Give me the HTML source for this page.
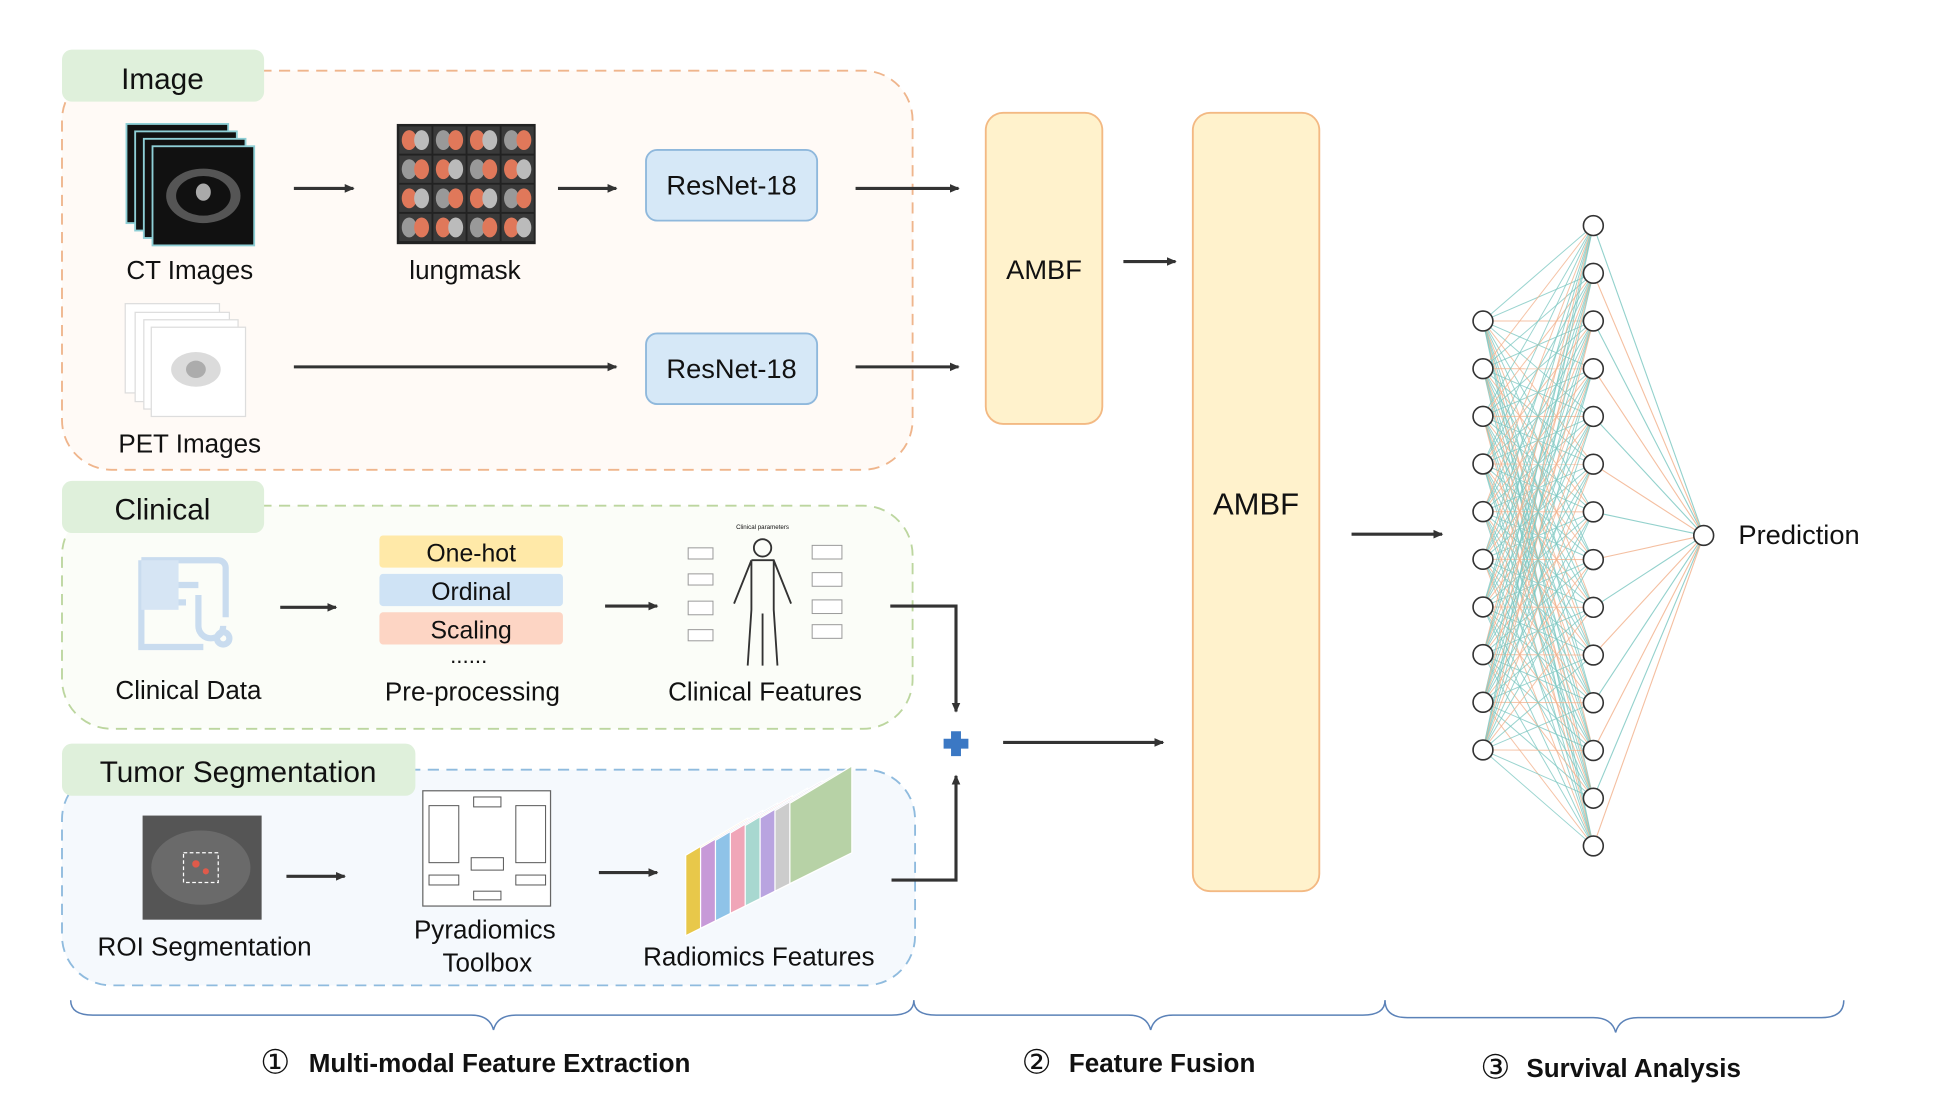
<!DOCTYPE html>
<html><head><meta charset="utf-8"><style>
html,body{margin:0;padding:0;background:#fff;}
svg{display:block;}
text{font-family:"Liberation Sans","DejaVu Sans",sans-serif;fill:#111;}
</style></head><body>
<svg id="s" width="1943" height="1118" viewBox="0 0 1567 902" preserveAspectRatio="none" xmlns="http://www.w3.org/2000/svg">
<defs>
<marker id="ar" markerWidth="8" markerHeight="8" refX="7" refY="4" orient="auto" markerUnits="userSpaceOnUse"><path d="M0,0.5 L8,4 L0,7.5 Z" fill="#333"/></marker>
</defs>
<rect x="50" y="57" width="686" height="322" rx="40" fill="#fffaf6" stroke="#efb58c" stroke-width="1.5" stroke-dasharray="9,6"/>
<rect x="50" y="40" width="163" height="42" rx="8" fill="#dff0db"/>
<text x="131" y="72" font-size="24" text-anchor="middle">Image</text>

<rect x="50" y="408" width="686" height="180" rx="40" fill="#fbfdf8" stroke="#bcd69f" stroke-width="1.5" stroke-dasharray="9,6"/>
<rect x="50" y="388" width="163" height="42" rx="8" fill="#dff0db"/>
<text x="131" y="419" font-size="24" text-anchor="middle">Clinical</text>

<rect x="50" y="621" width="688" height="174" rx="40" fill="#f5f9fd" stroke="#8fbbde" stroke-width="1.5" stroke-dasharray="9,6"/>
<rect x="50" y="600" width="285" height="42" rx="8" fill="#dff0db"/>
<text x="192" y="631" font-size="24" text-anchor="middle">Tumor Segmentation</text>

<g stroke="#8ecfd6" stroke-width="1.5">
<rect x="102" y="100" width="82" height="80" fill="#111"/>
<rect x="109" y="106" width="82" height="80" fill="#111"/>
<rect x="116" y="112" width="82" height="80" fill="#111"/>
<rect x="123" y="118" width="82" height="80" fill="#111"/>
</g>
<ellipse cx="164" cy="158" rx="30" ry="22" fill="#555"/>
<ellipse cx="164" cy="158" rx="22" ry="16" fill="#111"/>
<ellipse cx="164" cy="155" rx="6" ry="7" fill="#aaa"/>
<text x="153" y="225" font-size="21" text-anchor="middle">CT Images</text>

<g id="lm"></g>
<text x="375" y="225" font-size="21" text-anchor="middle">lungmask</text>

<g stroke="#ddd" stroke-width="1">
<rect x="101" y="245" width="76" height="72" fill="#fff"/>
<rect x="109" y="252" width="76" height="72" fill="#fff"/>
<rect x="116" y="258" width="76" height="72" fill="#fff"/>
<rect x="122" y="264" width="76" height="72" fill="#fff"/>
</g>
<ellipse cx="158" cy="298" rx="20" ry="14" fill="#ccc" opacity="0.7"/>
<ellipse cx="158" cy="298" rx="8" ry="7" fill="#999" opacity="0.7"/>
<text x="153" y="365" font-size="21" text-anchor="middle">PET Images</text>

<g stroke="#333" stroke-width="2.5" fill="none" marker-end="url(#ar)">
<line x1="237" y1="152" x2="285" y2="152"/>
<line x1="450" y1="152" x2="497" y2="152"/>
<line x1="690" y1="152" x2="773" y2="152"/>
<line x1="237" y1="296" x2="497" y2="296"/>
<line x1="690" y1="296" x2="773" y2="296"/>
<line x1="906" y1="211" x2="948" y2="211"/>
<line x1="1090" y1="431" x2="1163" y2="431"/>
<line x1="226" y1="490" x2="271" y2="490"/>
<line x1="488" y1="489" x2="530" y2="489"/>
<polyline points="718,489 771,489 771,574"/>
<polyline points="719,710 771,710 771,626"/>
<line x1="809" y1="599" x2="938" y2="599"/>
<line x1="231" y1="707" x2="278" y2="707"/>
<line x1="483" y1="704" x2="530" y2="704"/>
</g>

<rect x="521" y="121" width="138" height="57" rx="9" fill="#d6e8f7" stroke="#8fb8dc" stroke-width="1.5"/>
<text x="590" y="157" font-size="22" text-anchor="middle">ResNet-18</text>
<rect x="521" y="269" width="138" height="57" rx="9" fill="#d6e8f7" stroke="#8fb8dc" stroke-width="1.5"/>
<text x="590" y="305" font-size="22" text-anchor="middle">ResNet-18</text>

<rect x="795" y="91" width="94" height="251" rx="14" fill="#fff2cc" stroke="#f3b983" stroke-width="1.5"/>
<text x="842" y="225" font-size="22" text-anchor="middle">AMBF</text>
<rect x="962" y="91" width="102" height="628" rx="14" fill="#fff2cc" stroke="#f3b983" stroke-width="1.5"/>
<text x="1013" y="415" font-size="25" text-anchor="middle">AMBF</text>

<g fill="none" stroke="#c9dcef" stroke-width="5">
<path d="M114,452 h62 a6,6 0 0 1 6,6 v40 M114,452 v70 h50"/>
<line x1="128" y1="472" x2="160" y2="472"/><line x1="128" y1="486" x2="150" y2="486"/>
<path d="M160,480 v25 a10,10 0 0 0 20,0"/><circle cx="180" cy="515" r="5"/>
</g>
<rect x="114" y="452" width="30" height="40" fill="#d6e5f4"/>
<text x="152" y="564" font-size="21" text-anchor="middle">Clinical Data</text>

<rect x="306" y="432" width="148" height="26" rx="3" fill="#ffe9a8"/>
<text x="380" y="453" font-size="20" text-anchor="middle">One-hot</text>
<rect x="306" y="463" width="148" height="26" rx="3" fill="#cfe3f5"/>
<text x="380" y="484" font-size="20" text-anchor="middle">Ordinal</text>
<rect x="306" y="494" width="148" height="26" rx="3" fill="#fdd5c4"/>
<text x="380" y="515" font-size="20" text-anchor="middle">Scaling</text>
<text x="378" y="535" font-size="18" text-anchor="middle">......</text>
<text x="381" y="565" font-size="21" text-anchor="middle">Pre-processing</text>

<text x="615" y="427" font-size="5" text-anchor="middle">Clinical parameters</text>
<g fill="none" stroke="#333" stroke-width="1.5">
<circle cx="615" cy="442" r="7"/>
<path d="M606,452 h18 l14,35 M606,452 l-14,35 M606,452 v40 l-3,45 M624,452 v40 l3,45 M615,495 v42"/>
</g>
<g fill="#fff" stroke="#999" stroke-width="0.8">
<rect x="555" y="442" width="20" height="9"/><rect x="555" y="463" width="20" height="9"/><rect x="555" y="485" width="20" height="11"/><rect x="555" y="508" width="20" height="9"/>
<rect x="655" y="440" width="24" height="11"/><rect x="655" y="462" width="24" height="11"/><rect x="655" y="484" width="24" height="11"/><rect x="655" y="504" width="24" height="11"/>
</g>
<text x="617" y="565" font-size="21" text-anchor="middle">Clinical Features</text>

<path d="M767,590 h8 v6 h6 v8 h-6 v6 h-8 v-6 h-6 v-8 h6 z" fill="#3b78c4"/>

<rect x="115" y="658" width="96" height="84" fill="#555"/>
<ellipse cx="162" cy="700" rx="40" ry="30" fill="#6a6a6a"/>
<rect x="148" y="688" width="28" height="24" fill="none" stroke="#fff" stroke-dasharray="3,2"/>
<circle cx="158" cy="697" r="3" fill="#e05a4a"/><circle cx="166" cy="703" r="2.5" fill="#e05a4a"/>
<text x="165" y="771" font-size="21" text-anchor="middle">ROI Segmentation</text>

<rect x="341" y="638" width="103" height="93" fill="#fff" stroke="#666"/>
<g fill="#fff" stroke="#555" stroke-width="0.8">
<rect x="346" y="650" width="24" height="46"/><rect x="416" y="650" width="24" height="46"/>
<rect x="382" y="643" width="22" height="8"/><rect x="380" y="692" width="26" height="10"/>
<rect x="346" y="706" width="24" height="8"/><rect x="416" y="706" width="24" height="8"/><rect x="382" y="719" width="22" height="7"/>
</g>
<text x="391" y="757" font-size="21" text-anchor="middle">Pyradiomics</text>
<text x="393" y="784" font-size="21" text-anchor="middle">Toolbox</text>

<g id="slabs"></g>
<text x="612" y="779" font-size="21" text-anchor="middle">Radiomics Features</text>

<g fill="none" stroke="#5b82b8" stroke-width="1.2">
<path d="M57,807 q0,12 18,12 h305 q15,0 18,12 q3,-12 18,-12 h303 q18,0 18,-12"/>
<path d="M737,807 q0,12 18,12 h155 q15,0 18,12 q3,-12 18,-12 h153 q18,0 18,-12"/>
<path d="M1117,807 q0,14 18,14 h150 q15,0 18,12 q3,-12 18,-12 h148 q18,0 18,-14"/>
</g>
<text x="222" y="866" font-size="27" text-anchor="middle">①</text>
<text x="249" y="865" font-size="21" font-weight="bold">Multi-modal Feature Extraction</text>
<text x="836" y="866" font-size="27" text-anchor="middle">②</text>
<text x="862" y="865" font-size="21" font-weight="bold">Feature Fusion</text>
<text x="1206" y="870" font-size="27" text-anchor="middle">③</text>
<text x="1231" y="869" font-size="21" font-weight="bold">Survival Analysis</text>

<g id="nn"></g>
<text x="1402" y="439" font-size="22">Prediction</text>
</svg>
<script>
var NS="http://www.w3.org/2000/svg";
function el(p,t,a){var e=document.createElementNS(NS,t);for(var k in a)e.setAttribute(k,a[k]);p.appendChild(e);return e;}
var lm=document.getElementById('lm');
el(lm,'rect',{x:320,y:100,width:112,height:97,fill:'#222'});
for(var r=0;r<4;r++)for(var c=0;c<4;c++){
 var x=322+c*27.5,y=102+r*23.5;
 el(lm,'rect',{x:x,y:y,width:26,height:22,fill:'#3a3a3a'});
 el(lm,'ellipse',{cx:x+8,cy:y+11,rx:6,ry:8,fill:(r+c)%2?'#999':'#e0785a'});
 el(lm,'ellipse',{cx:x+18,cy:y+11,rx:6,ry:8,fill:(r+c)%2?'#e0785a':'#bbb'});
}
var sl=document.getElementById('slabs');
var cols=['#e8c84a','#c79ad8','#8fc3e8','#f0a6b8','#a8d8d0','#b9a4e0','#ccc','#b7d2a6'];
for(var i=0;i<8;i++){
 var x=553+i*12,y=690-i*6;
 el(sl,'polygon',{points:(x)+','+(y)+' '+(x+50)+','+(y-30)+' '+(x+50)+','+(y+40)+' '+(x)+','+(y+65),fill:cols[i],stroke:'#fff','stroke-width':1});
}
var nn=document.getElementById('nn');
var L=[],M=[];
for(var i=0;i<10;i++)L.push(259+i*38.45);
for(var i=0;i<14;i++)M.push(182+i*38.5);
var k=0;
for(var i=0;i<10;i++)for(var j=0;j<14;j++){k++;
 el(nn,'line',{x1:1196,y1:L[i],x2:1285,y2:M[j],stroke:(k*7)%3==0?'#f2b08a':'#79c6c0','stroke-width':0.8,opacity:0.75});}
for(var j=0;j<14;j++)el(nn,'line',{x1:1285,y1:M[j],x2:1374,y2:432,stroke:j%2?'#f2b08a':'#79c6c0','stroke-width':0.9,opacity:0.8});
for(var i=0;i<10;i++)el(nn,'circle',{cx:1196,cy:L[i],r:8,fill:'#fff',stroke:'#333','stroke-width':1.3});
for(var j=0;j<14;j++)el(nn,'circle',{cx:1285,cy:M[j],r:8,fill:'#fff',stroke:'#333','stroke-width':1.3});
el(nn,'circle',{cx:1374,cy:432,r:8,fill:'#fff',stroke:'#333','stroke-width':1.3});
</script>
</body></html>
